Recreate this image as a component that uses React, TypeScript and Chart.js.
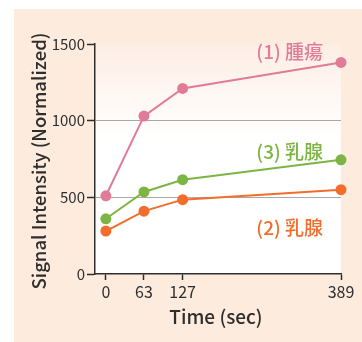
import React, { useEffect, useRef } from "react";
import { Chart, registerables } from "chart.js";

Chart.register(...registerables);

const times = [0, 63, 127, 389];
const tumor = [510, 1030, 1210, 1380]; // (1) 腫瘍
const mammary2 = [280, 410, 485, 550]; // (2) 乳腺
const mammary3 = [360, 535, 615, 745]; // (3) 乳腺
const yTicks = [0, 500, 1000, 1500];
const seriesLabels = ["(1) 腫瘍", "(2) 乳腺", "(3) 乳腺"];

const PINK = "#e17b97";
const ORANGE = "#f26d2c";
const GREEN = "#7db443";
const DARK = "#2e2e2e";
const PEACH = "#fdebde";
const FONT = "'Noto Sans CJK JP', 'Noto Sans', sans-serif";

const backgroundPlugin = {
  id: "bgPanel",
  beforeDraw(chart: any) {
    const { ctx, chartArea } = chart;
    ctx.save();
    ctx.fillStyle = "#ffffff";
    ctx.fillRect(0, 0, chart.width, chart.height);
    ctx.fillStyle = PEACH;
    ctx.fillRect(14, 9, chart.width - 14, chart.height - 9);
    const g = ctx.createLinearGradient(0, chartArea.top, 0, chartArea.top + 95);
    g.addColorStop(0, "#fdeee4");
    g.addColorStop(1, "#ffffff");
    ctx.fillStyle = g;
    ctx.fillRect(chartArea.left, chartArea.top, chartArea.right - chartArea.left, chartArea.bottom - chartArea.top);
    ctx.restore();
  },
};

const textPlugin = {
  id: "texts",
  afterDraw(chart: any) {
    const { ctx, chartArea } = chart;
    ctx.save();
    ctx.fillStyle = DARK;
    ctx.font = `500 19px ${FONT}`;
    ctx.textAlign = "center";
    ctx.textBaseline = "middle";
    ctx.fillText("Time (sec)", (chartArea.left + chartArea.right) / 2 - 2, chartArea.bottom + 43);
    ctx.save();
    ctx.translate(39, (chartArea.top + chartArea.bottom) / 2 + 2);
    ctx.rotate(-Math.PI / 2);
    ctx.font = `500 18.5px ${FONT}`;
    ctx.fillText("Signal Intensity (Normalized)", 0, 0);
    ctx.restore();
    ctx.font = `500 19px ${FONT}`;
    ctx.textAlign = "right";
    const xr = chartArea.right - 18;
    ctx.fillStyle = PINK;
    ctx.fillText(seriesLabels[0], xr, chartArea.top + 8);
    ctx.fillStyle = GREEN;
    ctx.fillText(seriesLabels[2], xr, chartArea.top + 108);
    ctx.fillStyle = ORANGE;
    ctx.fillText(seriesLabels[1], xr, chartArea.top + 184);
    ctx.restore();
  },
};

export default function App() {
  const ref = useRef<HTMLCanvasElement | null>(null);
  useEffect(() => {
    if (!ref.current) return;
    const mk = (vals: number[]) => times.map((t, i) => ({ x: t, y: vals[i] }));
    const ds = (label: string, vals: number[], color: string) => ({
      label,
      data: mk(vals),
      borderColor: color,
      backgroundColor: color,
      borderWidth: 2,
      pointRadius: 5.5,
      pointBorderWidth: 0,
      pointBackgroundColor: color,
      clip: false as any,
      tension: 0,
    });
    const chart = new Chart(ref.current, {
      type: "line",
      data: {
        datasets: [
          ds(seriesLabels[0], tumor, PINK),
          ds(seriesLabels[2], mammary3, GREEN),
          ds(seriesLabels[1], mammary2, ORANGE),
        ],
      },
      options: {
        animation: false,
        responsive: false,
        devicePixelRatio: 1,
        layout: { padding: { left: 0, top: 44, right: 21, bottom: 0 } },
        plugins: { legend: { display: false }, tooltip: { enabled: false } },
        scales: {
          x: {
            type: "linear",
            min: -18,
            max: 389,
            afterBuildTicks: (s: any) => {
              s.ticks = times.map((v) => ({ value: v }));
            },
            afterFit: (s: any) => {
              s.height = 68;
            },
            border: { color: DARK, width: 1.5 },
            grid: { drawOnChartArea: false, drawTicks: true, tickLength: 6, tickColor: DARK, tickWidth: 1.5 },
            ticks: {
              color: DARK,
              font: { family: FONT, size: 16 },
              padding: 2,
              maxRotation: 0,
              autoSkip: false,
              callback: (v: any) => String(v),
            },
          },
          y: {
            type: "linear",
            min: 0,
            max: 1500,
            afterBuildTicks: (s: any) => {
              s.ticks = yTicks.map((v) => ({ value: v }));
            },
            afterFit: (s: any) => {
              s.width = 95;
            },
            border: { color: DARK, width: 1.5 },
            grid: {
              drawTicks: true,
              tickLength: 8,
              tickColor: DARK,
              tickWidth: 1.5,
              lineWidth: 1,
              color: (c: any) => (c.tick && (c.tick.value === 500 || c.tick.value === 1000) ? "#a8a8a8" : "rgba(0,0,0,0)"),
            },
            ticks: { color: DARK, font: { family: FONT, size: 15 }, padding: 2, callback: (v: any) => String(v) },
          },
        },
      },
      plugins: [backgroundPlugin, textPlugin],
    });
    return () => chart.destroy();
  }, []);
  return (
    <div style={{ position: "absolute", left: 0, top: 0, width: 362, height: 342 }}>
      <canvas ref={ref} width={362} height={342} style={{ width: 362, height: 342, display: "block" }} />
    </div>
  );
}
